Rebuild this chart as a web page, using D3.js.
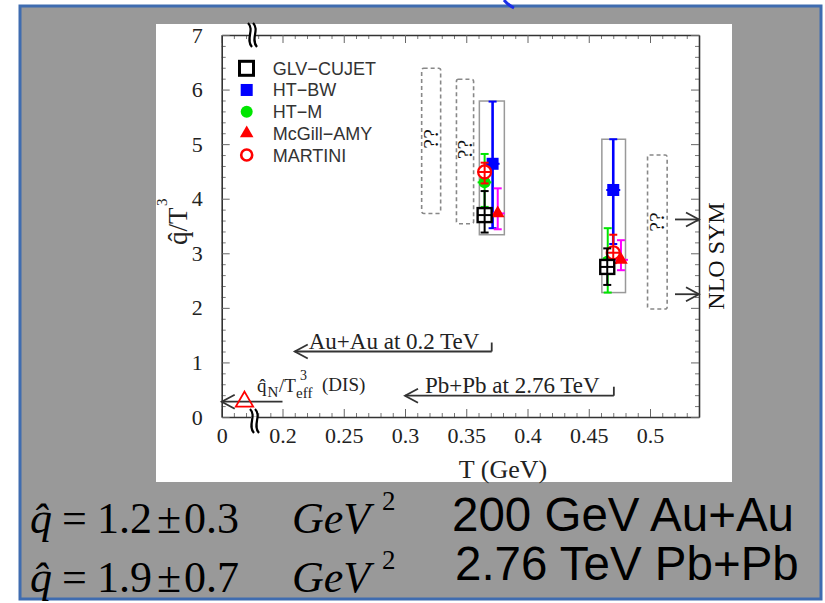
<!DOCTYPE html>
<html><head><meta charset="utf-8">
<script src="https://cdn.jsdelivr.net/npm/d3@7"></script>
<style>body{margin:0;background:#fff}svg{display:block}</style>
</head><body>
<script>
// ---------------- data ----------------
const models   = ["GLV\u2212CUJET","HT\u2212BW","HT\u2212M","McGill\u2212AMY","MARTINI"];
const rhicT    = [0.365, 0.3715, 0.365, 0.3757, 0.365];
const rhicQ    = [3.70, 4.64, 4.30, 3.73, 4.49];
const rhicLo   = [3.38, 3.46, 3.85, 3.44, 4.28];
const rhicHi   = [4.14, 5.78, 4.82, 4.19, 4.66];
const lhcT     = [0.4651, 0.470, 0.4655, 0.4763, 0.470];
const lhcQ     = [2.75, 4.16, 2.85, 2.88, 3.01];
const lhcLo    = [2.42, 3.17, 2.28, 2.69, 2.82];
const lhcHi    = [3.09, 5.09, 3.46, 3.24, 3.34];
const sysT0    = [0.3607, 0.4607];
const sysT1    = [0.3811, 0.4800];
const sysQ0    = [3.34, 2.28];
const sysQ1    = [5.79, 5.09];
const unkT0    = [0.3136, 0.342, 0.498];
const unkT1    = [0.3291, 0.356, 0.514];
const unkQ0    = [3.73, 3.54, 1.98];
const unkQ1    = [6.39, 6.19, 4.80];
const disT     = 0.075, disQ = 0.30;
const nloQ     = [3.62, 2.25];
const xTickValues = [0, 0.2, 0.25, 0.3, 0.35, 0.4, 0.45, 0.5];
const xTickLabels = ["0","0.2","0.25","0.3","0.35","0.4","0.45","0.5"];
const yTickValues = [0,1,2,3,4,5,6,7];
const yTickLabels = ["0","1","2","3","4","5","6","7"];

// ---------------- setup ----------------
const W = 825, H = 603;
const serif = '"Liberation Serif","Times New Roman",serif';
const sans  = '"Liberation Sans",Arial,sans-serif';
const svg = d3.select("body").append("svg").attr("width", W).attr("height", H);
svg.append("rect").attr("width", W).attr("height", H).attr("fill", "#fff");
svg.append("rect").attr("x", 20).attr("y", 6).attr("width", 801).attr("height", 593)
  .attr("fill", "#999999").attr("stroke", "#3f6cb0").attr("stroke-width", 3);
svg.append("path").attr("d", "M504,0 Q508,5 514,8").attr("fill", "none")
  .attr("stroke", "#1a2ee8").attr("stroke-width", 3);
svg.append("rect").attr("x", 156).attr("y", 24).attr("width", 576).attr("height", 458).attr("fill", "#fff");

const L = 221.7, R = 699, T = 35, B = 417;
const x = d3.scaleLinear().domain([0, 0.2, 0.54]).range([L, 282.5, R]);
const y = d3.scaleLinear().domain([0, 7]).range([B, T]);

const minorX = [0.04, 0.08, 0.12, 0.16].concat(d3.range(21, 54).map(d => d / 100).filter(d => Math.round(d * 100) % 5 !== 0));
const minorY = d3.range(0, 35).map(d => d / 5).filter(d => Math.abs(d - Math.round(d)) > 1e-6);

function styleAxis(g) {
  g.select(".domain").attr("stroke", "#333").attr("stroke-width", 1.6);
  g.selectAll(".tick line").attr("stroke", "#666").attr("stroke-width", 1);
  g.selectAll("text").attr("font-family", serif).attr("font-size", 22).attr("fill", "#222");
}
function minor(g) { g.select(".domain").remove(); g.selectAll(".tick line").attr("stroke", "#777").attr("stroke-width", 1); }

// bottom
svg.append("g").attr("transform", `translate(0,${B})`)
  .call(d3.axisBottom(x).tickValues(minorX).tickSize(-4).tickFormat("")).call(minor);
svg.append("g").attr("transform", `translate(0,${B})`)
  .call(d3.axisBottom(x).tickValues(xTickValues).tickSize(-8).tickSizeOuter(0).tickPadding(10)
    .tickFormat((d, i) => xTickLabels[i])).call(styleAxis);
// top
svg.append("g").attr("transform", `translate(0,${T})`)
  .call(d3.axisTop(x).tickValues(minorX).tickSize(-4).tickFormat("")).call(minor);
svg.append("g").attr("transform", `translate(0,${T})`)
  .call(d3.axisTop(x).tickValues(xTickValues).tickSize(-8).tickSizeOuter(0).tickFormat("")).call(styleAxis);
// left
svg.append("g").attr("transform", `translate(${L},0)`)
  .call(d3.axisLeft(y).tickValues(minorY).tickSize(-4).tickFormat("")).call(minor);
svg.append("g").attr("transform", `translate(${L},0)`)
  .call(d3.axisLeft(y).tickValues(yTickValues).tickSize(-8).tickSizeOuter(0).tickPadding(19)
    .tickFormat((d, i) => yTickLabels[i])).call(styleAxis);
// right
svg.append("g").attr("transform", `translate(${R},0)`)
  .call(d3.axisRight(y).tickValues(minorY).tickSize(-4).tickFormat("")).call(minor);
svg.append("g").attr("transform", `translate(${R},0)`)
  .call(d3.axisRight(y).tickValues(yTickValues).tickSize(-8).tickSizeOuter(0).tickFormat("")).call(styleAxis);

// axis breaks
function brk(cx, cy) {
  const g = svg.append("g");
  g.append("rect").attr("x", cx - 1).attr("y", cy - 4).attr("width", 6).attr("height", 8).attr("fill", "#fff");
  [cx, cx + 5].forEach(c => {
    g.append("path").attr("d", `M${c - 2},${cy - 12} C${c + 5},${cy - 5} ${c - 5},${cy + 4} ${c + 2},${cy + 12}`)
      .attr("fill", "none").attr("stroke", "#000").attr("stroke-width", 2.2);
  });
}
brk(250, T);
brk(252, 421);

// titles
svg.append("text").attr("x", 503).attr("y", 478).attr("text-anchor", "middle")
  .attr("font-family", serif).attr("font-size", 26).attr("fill", "#222").text("T (GeV)");
const yt = svg.append("g").attr("transform", "translate(187,220) rotate(-90)")
  .attr("font-family", serif).attr("fill", "#222");
yt.append("text").attr("x", -25).attr("y", 0).attr("font-size", 27).text("q\u0302");
yt.append("text").attr("x", -11.5).attr("y", 0).attr("font-size", 27).text("/T");
yt.append("text").attr("x", 14).attr("y", -20).attr("font-size", 15).text("3");

// unknown (dashed) boxes
unkT0.forEach((t0, i) => {
  svg.append("rect").attr("x", x(t0)).attr("y", y(unkQ1[i]))
    .attr("width", x(unkT1[i]) - x(t0)).attr("height", y(unkQ0[i]) - y(unkQ1[i]))
    .attr("rx", 2).attr("fill", "none").attr("stroke", "#888").attr("stroke-width", 1.6)
    .attr("stroke-dasharray", "4,3");
  const cx = (x(t0) + x(unkT1[i])) / 2 + 7, cy = (y(unkQ0[i]) + y(unkQ1[i])) / 2 - (i === 2 ? 10 : 2);
  svg.append("text").attr("transform", `translate(${cx},${cy}) rotate(-90)`).attr("text-anchor", "middle")
    .attr("font-family", serif).attr("font-size", 22).attr("fill", "#111").text("??");
});

// systematic boxes
sysT0.forEach((t0, i) => {
  svg.append("rect").attr("x", x(t0)).attr("y", y(sysQ1[i]))
    .attr("width", x(sysT1[i]) - x(t0)).attr("height", y(sysQ0[i]) - y(sysQ1[i]))
    .attr("fill", "none").attr("stroke", "#999").attr("stroke-width", 1.5);
});

// styles
const mType  = ["osq", "sq", "circ", "tri", "ocirc"];
const mColor = ["#000", "#0000ff", "#00e600", "#ff0000", "#ff0000"];
const eColor = ["#000", "#0000ff", "#00e600", "#ff00ff", "#ff0000"];
const drawOrder = [1, 2, 3, 4, 0];

function marker(g, type, cx, cy, col) {
  if (type === "osq") g.append("rect").attr("x", cx - 7).attr("y", cy - 7).attr("width", 14).attr("height", 14)
    .attr("fill", "#fff").attr("stroke", col).attr("stroke-width", 2.4);
  if (type === "sq") g.append("rect").attr("x", cx - 6).attr("y", cy - 6).attr("width", 12).attr("height", 12).attr("fill", col);
  if (type === "circ") g.append("circle").attr("cx", cx).attr("cy", cy).attr("r", 6).attr("fill", col);
  if (type === "ocirc") g.append("circle").attr("cx", cx).attr("cy", cy).attr("r", 6.5)
    .attr("fill", "#fff").attr("stroke", col).attr("stroke-width", 2.2);
  if (type === "tri") g.append("path").attr("transform", `translate(${cx},${cy})`)
    .attr("d", d3.symbol(d3.symbolTriangle, 80)()).attr("fill", col);
}
function errbar(g, cx, cy, lo, hi, col, w) {
  g.append("line").attr("x1", cx).attr("x2", cx).attr("y1", lo).attr("y2", hi).attr("stroke", col).attr("stroke-width", w);
  [lo, hi].forEach(v => g.append("line").attr("x1", cx - 4).attr("x2", cx + 4).attr("y1", v).attr("y2", v)
    .attr("stroke", col).attr("stroke-width", 2));
  g.append("line").attr("x1", cx - 7).attr("x2", cx + 7).attr("y1", cy).attr("y2", cy).attr("stroke", col).attr("stroke-width", 2);
}
const pts = svg.append("g");
[[rhicT, rhicQ, rhicLo, rhicHi], [lhcT, lhcQ, lhcLo, lhcHi]].forEach(([tt, qq, lo, hi]) => {
  drawOrder.forEach(i => {
    const cx = x(tt[i]), cy = y(qq[i]);
    if (mType[i] === "osq" || mType[i] === "ocirc") {
      marker(pts, mType[i], cx, cy, mColor[i]);
      errbar(pts, cx, cy, y(lo[i]), y(hi[i]), eColor[i], 2);
    } else {
      errbar(pts, cx, cy, y(lo[i]), y(hi[i]), eColor[i], i === 1 ? 2.6 : 2);
      marker(pts, mType[i], cx, cy, mColor[i]);
    }
  });
});

// legend
const ly = d3.scaleLinear().domain([0, 4]).range([68.3, 155]);
models.forEach((m, i) => {
  const cy = ly(i);
  if (mType[i] === "osq") pts.append("rect").attr("x", 239.5).attr("y", cy - 7).attr("width", 14).attr("height", 14)
    .attr("fill", "none").attr("stroke", "#000").attr("stroke-width", 3);
  else if (mType[i] === "ocirc") pts.append("circle").attr("cx", 246.7).attr("cy", cy).attr("r", 5.5)
    .attr("fill", "none").attr("stroke", mColor[i]).attr("stroke-width", 2.6);
  else marker(pts, mType[i], 246.7, cy, mColor[i]);
  svg.append("text").attr("x", 272.7).attr("y", cy + 6.5).attr("font-family", sans).attr("font-size", 18)
    .attr("fill", "#333").text(m);
});

// annotation arrows
function arrowL(x0, x1, yy, tick) {
  const g = svg.append("g").attr("stroke", "#333").attr("stroke-width", 1.8).attr("fill", "none");
  g.append("line").attr("x1", x0).attr("x2", x1).attr("y1", yy).attr("y2", yy);
  g.append("path").attr("d", `M${x0 + 13},${yy - 7} L${x0},${yy} L${x0 + 13},${yy + 7}`);
  if (tick) g.append("line").attr("x1", x1).attr("x2", x1).attr("y1", yy).attr("y2", yy - 9);
}
function arrowR(x0, x1, yy) {
  const g = svg.append("g").attr("stroke", "#333").attr("stroke-width", 1.8).attr("fill", "none");
  g.append("line").attr("x1", x0).attr("x2", x1).attr("y1", yy).attr("y2", yy);
  g.append("path").attr("d", `M${x1 - 13},${yy - 7} L${x1},${yy} L${x1 - 13},${yy + 7}`);
}
arrowL(x(0.21), x(0.3708), y(1.2), true);
svg.append("text").attr("x", x(0.21) + 14).attr("y", y(1.2) - 3).attr("font-family", serif).attr("font-size", 23)
  .attr("fill", "#222").text("Au+Au at 0.2 TeV");
arrowL(x(0.30), x(0.4705), y(0.39), true);
svg.append("text").attr("x", x(0.30) + 20).attr("y", y(0.39) - 3).attr("font-family", serif).attr("font-size", 23)
  .attr("fill", "#222").text("Pb+Pb at 2.76 TeV");
arrowL(x(0), x(0.2), y(0.28), false);
nloQ.forEach(q => arrowR(x(0.5204), x(0.54), y(q)));
svg.append("text").attr("transform", "translate(724,256) rotate(-90)").attr("text-anchor", "middle")
  .attr("font-family", serif).attr("font-size", 24).attr("fill", "#111").text("NLO SYM");

// DIS point
svg.append("path").attr("transform", `translate(${x(disT)},${y(disQ) + 1})`)
  .attr("d", d3.symbol(d3.symbolTriangle, 130)()).attr("fill", "none").attr("stroke", "#ff0000").attr("stroke-width", 1.8);
const dg = svg.append("g").attr("font-family", serif).attr("fill", "#222");
dg.append("text").attr("x", 257).attr("y", 392).attr("font-size", 19).text("q\u0302");
dg.append("text").attr("x", 267.5).attr("y", 397).attr("font-size", 15).text("N");
dg.append("text").attr("x", 279).attr("y", 392).attr("font-size", 19).text("/T");
dg.append("text").attr("x", 296).attr("y", 398).attr("font-size", 15).text("eff");
dg.append("text").attr("x", 300).attr("y", 380).attr("font-size", 14).text("3");
dg.append("text").attr("x", 322).attr("y", 391).attr("font-size", 19).text("(DIS)");

// bottom text on gray
function mathLine(base, a, b) {
  const g = svg.append("g").attr("font-family", serif).attr("fill", "#000");
  g.append("text").attr("x", 30).attr("y", base).attr("font-size", 44).attr("font-style", "italic").text("q\u0302");
  g.append("text").attr("x", 62).attr("y", base).attr("font-size", 44).text("=");
  g.append("text").attr("x", 97).attr("y", base).attr("font-size", 44).text(a);
  g.append("text").attr("x", 157).attr("y", base).attr("font-size", 44).text("\u00B1");
  g.append("text").attr("x", 184).attr("y", base).attr("font-size", 44).text(b);
  g.append("text").attr("x", 292).attr("y", base).attr("font-size", 44).attr("font-style", "italic").text("GeV");
  g.append("text").attr("x", 382).attr("y", base - 23).attr("font-size", 27).text("2");
}
mathLine(533, "1.2", "0.3");
mathLine(592, "1.9", "0.7");
svg.append("text").attr("x", 452).attr("y", 531).attr("font-family", sans).attr("font-size", 47.5).attr("fill", "#000").text("200 GeV Au+Au");
svg.append("text").attr("x", 455).attr("y", 580).attr("font-family", sans).attr("font-size", 47.5).attr("fill", "#000").text("2.76 TeV Pb+Pb");
</script>
</body></html>
